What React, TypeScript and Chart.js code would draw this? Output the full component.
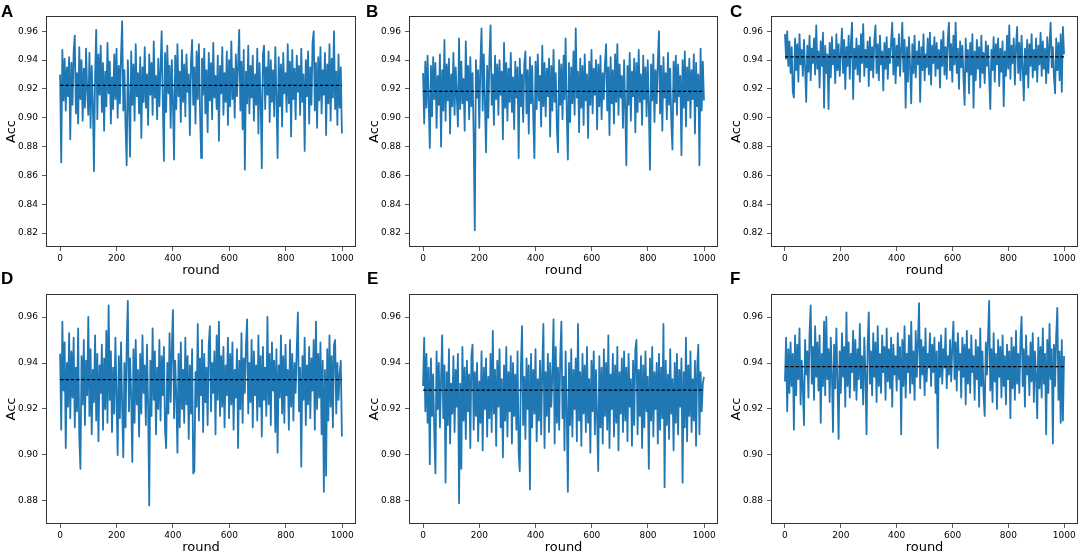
import { useEffect, useRef } from 'react'
import { Chart, registerables } from 'chart.js'

Chart.register(...registerables)

// x ticks (round) and y ticks (Acc) per row
const X_TICKS = [0, 200, 400, 600, 800, 1000]
const Y_TICKS_TOP = [0.82, 0.84, 0.86, 0.88, 0.9, 0.92, 0.94, 0.96]
const Y_TICKS_BOTTOM = [0.88, 0.9, 0.92, 0.94, 0.96]

// accuracy per round (one value about every 4 rounds)
const ACC_A = [
  0.930, 0.869, 0.947, 0.912, 0.941, 0.905, 0.935, 0.915, 0.942, 0.885,
  0.938, 0.909, 0.946, 0.957, 0.903, 0.931, 0.896, 0.949, 0.913, 0.940,
  0.898, 0.934, 0.907, 0.948, 0.918, 0.902, 0.945, 0.893, 0.936, 0.911,
  0.863, 0.929, 0.961, 0.899, 0.944, 0.916, 0.950, 0.904, 0.938, 0.891,
  0.932, 0.908, 0.952, 0.917, 0.939, 0.896, 0.928, 0.906, 0.944, 0.913,
  0.948, 0.900, 0.936, 0.910, 0.943, 0.967, 0.905, 0.933, 0.894, 0.867,
  0.940, 0.912, 0.873, 0.946, 0.909, 0.937, 0.898, 0.951, 0.915, 0.931,
  0.903, 0.942, 0.886, 0.935, 0.911, 0.949, 0.907, 0.930, 0.895, 0.944,
  0.916, 0.938, 0.902, 0.953, 0.914, 0.929, 0.899, 0.941, 0.908, 0.934,
  0.960, 0.912, 0.870, 0.945, 0.904, 0.950, 0.917, 0.936, 0.893, 0.940,
  0.910, 0.871, 0.943, 0.906, 0.951, 0.915, 0.932, 0.897, 0.947, 0.911,
  0.937, 0.901, 0.944, 0.918, 0.930, 0.888, 0.939, 0.954, 0.909, 0.935,
  0.896, 0.946, 0.913, 0.951, 0.905, 0.872, 0.941, 0.916, 0.948, 0.903,
  0.933, 0.890, 0.945, 0.912, 0.938, 0.899, 0.952, 0.914, 0.929, 0.906,
  0.943, 0.884, 0.936, 0.917, 0.949, 0.902, 0.931, 0.911, 0.946, 0.895,
  0.940, 0.908, 0.953, 0.913, 0.934, 0.900, 0.944, 0.915, 0.937, 0.961,
  0.905, 0.939, 0.892, 0.947, 0.864, 0.932, 0.910, 0.950, 0.903, 0.936,
  0.914, 0.943, 0.898, 0.930, 0.909, 0.948, 0.889, 0.938, 0.912, 0.865,
  0.944, 0.950, 0.906, 0.935, 0.916, 0.946, 0.897, 0.940, 0.911, 0.933,
  0.901, 0.949, 0.914, 0.872, 0.942, 0.908, 0.937, 0.894, 0.945, 0.917,
  0.931, 0.904, 0.951, 0.910, 0.939, 0.887, 0.947, 0.913, 0.934, 0.899,
  0.943, 0.918, 0.936, 0.902, 0.948, 0.911, 0.930, 0.877, 0.940, 0.915,
  0.946, 0.896, 0.935, 0.909, 0.952, 0.960, 0.905, 0.938, 0.893, 0.942,
  0.912, 0.949, 0.903, 0.933, 0.916, 0.945, 0.888, 0.937, 0.910, 0.951,
  0.898, 0.941, 0.914, 0.960, 0.906, 0.932, 0.895, 0.944, 0.907, 0.935,
  0.889,
]
const ACC_B = [
  0.931, 0.896, 0.939, 0.907, 0.943, 0.911, 0.879, 0.936, 0.901, 0.942,
  0.913, 0.938, 0.893, 0.929, 0.909, 0.944, 0.880, 0.933, 0.905, 0.954,
  0.898, 0.937, 0.912, 0.941, 0.889, 0.930, 0.908, 0.945, 0.902, 0.935,
  0.915, 0.894, 0.955, 0.906, 0.939, 0.910, 0.927, 0.891, 0.953, 0.912,
  0.936, 0.899, 0.942, 0.908, 0.931, 0.887, 0.822, 0.940, 0.914, 0.933,
  0.893, 0.938, 0.962, 0.905, 0.944, 0.911, 0.876, 0.936, 0.900, 0.941,
  0.964, 0.909, 0.930, 0.895, 0.943, 0.913, 0.937, 0.902, 0.940, 0.916,
  0.932, 0.885, 0.952, 0.907, 0.938, 0.898, 0.934, 0.911, 0.945, 0.904,
  0.928, 0.892, 0.939, 0.914, 0.935, 0.872, 0.941, 0.908, 0.930, 0.897,
  0.937, 0.946, 0.903, 0.933, 0.889, 0.942, 0.910, 0.936, 0.899, 0.872,
  0.939, 0.906, 0.944, 0.912, 0.929, 0.894, 0.950, 0.908, 0.938, 0.901,
  0.934, 0.915, 0.941, 0.887, 0.936, 0.905, 0.947, 0.911, 0.931, 0.893,
  0.876, 0.940, 0.909, 0.937, 0.899, 0.943, 0.913, 0.955, 0.904, 0.871,
  0.938, 0.897, 0.935, 0.910, 0.946, 0.902, 0.962, 0.914, 0.932, 0.890,
  0.941, 0.907, 0.936, 0.895, 0.944, 0.912, 0.930, 0.886, 0.939, 0.909,
  0.947, 0.903, 0.934, 0.916, 0.940, 0.892, 0.937, 0.908, 0.943, 0.899,
  0.931, 0.913, 0.938, 0.951, 0.905, 0.935, 0.888, 0.942, 0.910, 0.933,
  0.896, 0.944, 0.911, 0.951, 0.902, 0.937, 0.914, 0.929, 0.893, 0.940,
  0.907, 0.867, 0.936, 0.909, 0.945, 0.898, 0.932, 0.915, 0.941, 0.890,
  0.938, 0.904, 0.947, 0.911, 0.930, 0.895, 0.943, 0.913, 0.935, 0.901,
  0.940, 0.908, 0.864, 0.937, 0.912, 0.944, 0.897, 0.933, 0.910, 0.939,
  0.960, 0.903, 0.936, 0.891, 0.942, 0.914, 0.931, 0.899, 0.945, 0.909,
  0.934, 0.896, 0.878, 0.939, 0.911, 0.943, 0.902, 0.937, 0.915, 0.929,
  0.874, 0.940, 0.907, 0.946, 0.894, 0.935, 0.912, 0.941, 0.900, 0.933,
  0.913, 0.944, 0.889, 0.938, 0.908, 0.930, 0.867, 0.948, 0.905, 0.939,
  0.912,
]
const ACC_C = [
  0.958, 0.941, 0.960, 0.936, 0.953, 0.931, 0.949, 0.918, 0.914, 0.955,
  0.933, 0.951, 0.925, 0.958, 0.937, 0.947, 0.929, 0.954, 0.935, 0.911,
  0.950, 0.932, 0.957, 0.926, 0.948, 0.938, 0.955, 0.930, 0.964, 0.934,
  0.946, 0.921, 0.953, 0.936, 0.959, 0.907, 0.950, 0.931, 0.944, 0.906,
  0.952, 0.928, 0.956, 0.937, 0.947, 0.924, 0.958, 0.933, 0.951, 0.929,
  0.945, 0.962, 0.931, 0.954, 0.920, 0.949, 0.936, 0.957, 0.927, 0.952,
  0.966, 0.913, 0.948, 0.934, 0.955, 0.930, 0.950, 0.925, 0.958, 0.938,
  0.965, 0.929, 0.947, 0.935, 0.953, 0.922, 0.956, 0.933, 0.949, 0.928,
  0.954, 0.964, 0.931, 0.951, 0.926, 0.957, 0.937, 0.946, 0.919, 0.952,
  0.934, 0.956, 0.927, 0.948, 0.938, 0.953, 0.966, 0.930, 0.955, 0.924,
  0.950, 0.936, 0.958, 0.929, 0.947, 0.966, 0.932, 0.954, 0.907, 0.949,
  0.925, 0.956, 0.935, 0.910, 0.951, 0.931, 0.957, 0.928, 0.946, 0.937,
  0.953, 0.911, 0.949, 0.933, 0.958, 0.926, 0.944, 0.935, 0.955, 0.930,
  0.959, 0.923, 0.950, 0.938, 0.956, 0.929, 0.952, 0.934, 0.947, 0.921,
  0.954, 0.936, 0.960, 0.930, 0.949, 0.927, 0.955, 0.966, 0.933, 0.951,
  0.925, 0.957, 0.937, 0.966, 0.931, 0.948, 0.920, 0.953, 0.935, 0.950,
  0.928, 0.909, 0.955, 0.932, 0.947, 0.917, 0.952, 0.930, 0.958, 0.907,
  0.946, 0.926, 0.954, 0.934, 0.949, 0.921, 0.957, 0.931, 0.945, 0.924,
  0.953, 0.936, 0.950, 0.928, 0.906, 0.947, 0.933, 0.956, 0.925, 0.951,
  0.937, 0.955, 0.922, 0.948, 0.932, 0.953, 0.908, 0.946, 0.929, 0.957,
  0.934, 0.964, 0.927, 0.950, 0.938, 0.955, 0.923, 0.949, 0.963, 0.931,
  0.952, 0.926, 0.957, 0.935, 0.912, 0.948, 0.930, 0.954, 0.921, 0.951,
  0.936, 0.958, 0.928, 0.947, 0.933, 0.955, 0.925, 0.950, 0.937, 0.959,
  0.929, 0.953, 0.934, 0.948, 0.924, 0.956, 0.931, 0.951, 0.966, 0.935,
  0.949, 0.928, 0.917, 0.955, 0.933, 0.952, 0.926, 0.958, 0.918, 0.963,
  0.944,
]
const ACC_D = [
  0.944, 0.911, 0.958, 0.928, 0.949, 0.903, 0.940, 0.921, 0.953, 0.916,
  0.945, 0.925, 0.951, 0.912, 0.938, 0.919, 0.955, 0.908, 0.894, 0.943,
  0.922, 0.950, 0.913, 0.941, 0.926, 0.960, 0.917, 0.946, 0.909, 0.937,
  0.923, 0.952, 0.915, 0.944, 0.906, 0.939, 0.927, 0.948, 0.911, 0.942,
  0.920, 0.954, 0.914, 0.965, 0.924, 0.945, 0.910, 0.938, 0.918, 0.951,
  0.926, 0.900, 0.943, 0.916, 0.949, 0.921, 0.899, 0.940, 0.912, 0.947,
  0.967, 0.919, 0.942, 0.925, 0.897, 0.946, 0.914, 0.950, 0.922, 0.937,
  0.908, 0.944, 0.918, 0.952, 0.927, 0.939, 0.913, 0.948, 0.921, 0.878,
  0.941, 0.917, 0.955, 0.924, 0.945, 0.909, 0.938, 0.920, 0.950, 0.915,
  0.943, 0.926, 0.947, 0.911, 0.903, 0.940, 0.918, 0.953, 0.923, 0.946,
  0.963, 0.916, 0.941, 0.925, 0.901, 0.944, 0.912, 0.949, 0.920, 0.937,
  0.914, 0.951, 0.922, 0.943, 0.907, 0.939, 0.918, 0.946, 0.892, 0.893,
  0.936, 0.921, 0.957, 0.915, 0.942, 0.926, 0.950, 0.910, 0.944, 0.923,
  0.938, 0.913, 0.948, 0.956, 0.919, 0.940, 0.927, 0.945, 0.909, 0.952,
  0.924, 0.958, 0.917, 0.943, 0.921, 0.947, 0.912, 0.939, 0.926, 0.951,
  0.916, 0.944, 0.922, 0.949, 0.911, 0.937, 0.925, 0.946, 0.903, 0.941,
  0.920, 0.953, 0.914, 0.942, 0.927, 0.948, 0.959, 0.918, 0.940, 0.923,
  0.950, 0.912, 0.945, 0.926, 0.939, 0.915, 0.952, 0.921, 0.943, 0.908,
  0.947, 0.924, 0.938, 0.917, 0.960, 0.922, 0.944, 0.913, 0.949, 0.928,
  0.941, 0.910, 0.946, 0.901, 0.939, 0.925, 0.952, 0.918, 0.943, 0.914,
  0.948, 0.926, 0.937, 0.911, 0.950, 0.921, 0.944, 0.915, 0.940, 0.927,
  0.946, 0.962, 0.919, 0.938, 0.895, 0.943, 0.924, 0.951, 0.913, 0.939,
  0.922, 0.947, 0.916, 0.942, 0.928, 0.950, 0.911, 0.958, 0.920, 0.944,
  0.925, 0.949, 0.909, 0.941, 0.884, 0.937, 0.891, 0.946, 0.915, 0.952,
  0.921, 0.943, 0.912, 0.948, 0.950, 0.918, 0.940, 0.924, 0.935, 0.941,
  0.908,
]
const ACC_E = [
  0.930, 0.951, 0.919, 0.944, 0.914, 0.938, 0.896, 0.942, 0.917, 0.935,
  0.909, 0.892, 0.945, 0.920, 0.940, 0.912, 0.933, 0.952, 0.916, 0.939,
  0.888, 0.936, 0.913, 0.946, 0.905, 0.931, 0.918, 0.943, 0.910, 0.937,
  0.921, 0.944, 0.879, 0.931, 0.894, 0.947, 0.915, 0.938, 0.907, 0.941,
  0.919, 0.935, 0.903, 0.943, 0.948, 0.911, 0.936, 0.917, 0.940, 0.906,
  0.932, 0.914, 0.945, 0.902, 0.938, 0.920, 0.942, 0.908, 0.934, 0.916,
  0.944, 0.910, 0.954, 0.918, 0.937, 0.904, 0.941, 0.921, 0.946, 0.912,
  0.933, 0.899, 0.939, 0.915, 0.947, 0.908, 0.936, 0.919, 0.943, 0.905,
  0.940, 0.917, 0.935, 0.911, 0.945, 0.901, 0.893, 0.938, 0.956, 0.913,
  0.934, 0.907, 0.942, 0.920, 0.939, 0.885, 0.944, 0.912, 0.937, 0.918,
  0.946, 0.906, 0.933, 0.915, 0.941, 0.909, 0.938, 0.957, 0.903, 0.936,
  0.917, 0.944, 0.910, 0.940, 0.921, 0.935, 0.959, 0.905, 0.947, 0.914,
  0.938, 0.911, 0.943, 0.958, 0.916, 0.934, 0.902, 0.945, 0.919, 0.884,
  0.940, 0.913, 0.946, 0.908, 0.937, 0.920, 0.942, 0.906, 0.957, 0.915,
  0.936, 0.904, 0.944, 0.918, 0.939, 0.910, 0.947, 0.914, 0.933, 0.901,
  0.941, 0.919, 0.945, 0.909, 0.937, 0.916, 0.893, 0.943, 0.912, 0.938,
  0.905, 0.946, 0.917, 0.940, 0.911, 0.952, 0.903, 0.935, 0.920, 0.944,
  0.908, 0.939, 0.914, 0.947, 0.902, 0.936, 0.918, 0.942, 0.910, 0.945,
  0.915, 0.938, 0.906, 0.944, 0.921, 0.933, 0.904, 0.941, 0.913, 0.946,
  0.950, 0.909, 0.937, 0.917, 0.943, 0.903, 0.939, 0.912, 0.945, 0.919,
  0.934, 0.894, 0.942, 0.915, 0.947, 0.908, 0.936, 0.920, 0.940, 0.905,
  0.944, 0.911, 0.938, 0.916, 0.957, 0.886, 0.941, 0.913, 0.935, 0.907,
  0.946, 0.918, 0.933, 0.902, 0.940, 0.914, 0.944, 0.909, 0.937, 0.921,
  0.942, 0.888, 0.936, 0.912, 0.951, 0.906, 0.939, 0.917, 0.945, 0.910,
  0.933, 0.915, 0.941, 0.904, 0.938, 0.948, 0.909, 0.936, 0.919, 0.931,
  0.934,
]
const ACC_F = [
  0.932, 0.951, 0.919, 0.946, 0.927, 0.949, 0.930, 0.944, 0.911, 0.952,
  0.926, 0.948, 0.933, 0.955, 0.922, 0.941, 0.929, 0.913, 0.950, 0.935,
  0.945, 0.925, 0.953, 0.965, 0.931, 0.947, 0.924, 0.956, 0.934, 0.949,
  0.928, 0.952, 0.914, 0.944, 0.930, 0.958, 0.926, 0.960, 0.933, 0.946,
  0.923, 0.951, 0.935, 0.910, 0.948, 0.929, 0.955, 0.932, 0.907, 0.945,
  0.927, 0.953, 0.934, 0.947, 0.921, 0.962, 0.930, 0.949, 0.925, 0.944,
  0.936, 0.954, 0.928, 0.950, 0.924, 0.946, 0.933, 0.957, 0.929, 0.943,
  0.922, 0.951, 0.935, 0.909, 0.948, 0.962, 0.931, 0.945, 0.926, 0.953,
  0.934, 0.949, 0.923, 0.956, 0.930, 0.944, 0.927, 0.952, 0.936, 0.947,
  0.924, 0.955, 0.932, 0.946, 0.929, 0.951, 0.921, 0.948, 0.935, 0.943,
  0.928, 0.953, 0.933, 0.947, 0.909, 0.950, 0.930, 0.956, 0.925, 0.944,
  0.936, 0.952, 0.927, 0.958, 0.931, 0.945, 0.924, 0.954, 0.934, 0.949,
  0.966, 0.929, 0.950, 0.935, 0.947, 0.926, 0.955, 0.932, 0.944, 0.938,
  0.953, 0.930, 0.948, 0.936, 0.951, 0.927, 0.945, 0.903, 0.949, 0.934,
  0.952, 0.931, 0.946, 0.938, 0.955, 0.929, 0.943, 0.935, 0.950, 0.932,
  0.947, 0.958, 0.933, 0.949, 0.928, 0.953, 0.937, 0.944, 0.925, 0.951,
  0.934, 0.948, 0.922, 0.954, 0.931, 0.946, 0.927, 0.952, 0.936, 0.943,
  0.924, 0.950, 0.933, 0.947, 0.921, 0.955, 0.930, 0.945, 0.926, 0.917,
  0.949, 0.935, 0.951, 0.967, 0.928, 0.946, 0.923, 0.953, 0.932, 0.944,
  0.920, 0.950, 0.934, 0.947, 0.925, 0.952, 0.930, 0.943, 0.922, 0.948,
  0.933, 0.945, 0.916, 0.951, 0.929, 0.947, 0.924, 0.954, 0.931, 0.944,
  0.927, 0.950, 0.960, 0.930, 0.946, 0.921, 0.952, 0.935, 0.943, 0.926,
  0.949, 0.932, 0.953, 0.923, 0.945, 0.934, 0.916, 0.951, 0.929, 0.947,
  0.925, 0.955, 0.931, 0.944, 0.909, 0.950, 0.927, 0.957, 0.933, 0.946,
  0.905, 0.948, 0.930, 0.952, 0.964, 0.924, 0.945, 0.914, 0.950, 0.915,
  0.943,
]

// dashed mean line of each panel
const MEAN_ACC = [0.9225, 0.9183, 0.9422, 0.9328, 0.9282, 0.9384]

const BLUE = '#1f77b4'
const FONT = "'DejaVu Sans', sans-serif"

// frame = plot box in page pixels
const PANELS = [
  { letter: 'A', acc: ACC_A, mean: MEAN_ACC[0], frame: { x: 46, y: 16, w: 310, h: 231 }, yRange: [0.8103, 0.9706], yTicks: Y_TICKS_TOP, letterPos: [1, 3] },
  { letter: 'B', acc: ACC_B, mean: MEAN_ACC[1], frame: { x: 409, y: 16, w: 309, h: 231 }, yRange: [0.8103, 0.9706], yTicks: Y_TICKS_TOP, letterPos: [366, 3] },
  { letter: 'C', acc: ACC_C, mean: MEAN_ACC[2], frame: { x: 771, y: 16, w: 307, h: 231 }, yRange: [0.8103, 0.9706], yTicks: Y_TICKS_TOP, letterPos: [730, 3] },
  { letter: 'D', acc: ACC_D, mean: MEAN_ACC[3], frame: { x: 46, y: 294, w: 310, h: 230 }, yRange: [0.870, 0.970], yTicks: Y_TICKS_BOTTOM, letterPos: [1, 270] },
  { letter: 'E', acc: ACC_E, mean: MEAN_ACC[4], frame: { x: 409, y: 294, w: 309, h: 230 }, yRange: [0.870, 0.970], yTicks: Y_TICKS_BOTTOM, letterPos: [367, 270] },
  { letter: 'F', acc: ACC_F, mean: MEAN_ACC[5], frame: { x: 771, y: 294, w: 307, h: 230 }, yRange: [0.870, 0.970], yTicks: Y_TICKS_BOTTOM, letterPos: [730, 270] },
]

const Y_AXIS_W = 46
const X_AXIS_H = 38
const PAD_TOP = 16
const PAD_RIGHT = 4

const framePlugin = {
  id: 'frame',
  afterDatasetsDraw(chart: Chart) {
    const { ctx, chartArea: a } = chart
    ctx.save()
    ctx.strokeStyle = '#333'
    ctx.lineWidth = 1
    ctx.strokeRect(Math.round(a.left) + 0.5, Math.round(a.top) + 0.5, Math.round(a.width) - 1, Math.round(a.height) - 1)
    ctx.restore()
  },
}

type PanelProps = (typeof PANELS)[number]

function Panel({ acc, mean, frame, yRange, yTicks }: PanelProps) {
  const canvasRef = useRef<HTMLCanvasElement>(null)
  const width = frame.w + Y_AXIS_W + PAD_RIGHT
  const height = frame.h + PAD_TOP + X_AXIS_H

  useEffect(() => {
    if (!canvasRef.current) return
    const n = acc.length
    const rounds = acc.map((_, i) => Math.round((i * 999) / (n - 1)))

    const chart = new Chart(canvasRef.current, {
      type: 'line',
      data: {
        datasets: [
          {
            data: [{ x: 0, y: mean }, { x: 999, y: mean }],
            borderColor: '#000',
            borderWidth: 1.2,
            borderDash: [3.5, 1.8],
            pointRadius: 0,
            order: 0,
          },
          {
            data: acc.map((v, i) => ({ x: rounds[i], y: v })),
            borderColor: BLUE,
            borderWidth: 1.8,
            borderJoinStyle: 'round',
            pointRadius: 0,
            tension: 0,
            order: 1,
          },
        ],
      },
      options: {
        responsive: false,
        animation: false,
        events: [],
        layout: { padding: { top: PAD_TOP, right: PAD_RIGHT, left: 0, bottom: 0 } },
        plugins: { legend: { display: false }, tooltip: { enabled: false } },
        scales: {
          x: {
            type: 'linear',
            min: -50,
            max: 1049,
            afterFit: (s: any) => { s.height = X_AXIS_H },
            afterBuildTicks: (s: any) => { s.ticks = X_TICKS.map((v) => ({ value: v })) },
            grid: { display: true, drawOnChartArea: false, drawTicks: true, tickLength: 4, tickColor: '#333', tickWidth: 0.8 },
            border: { display: false },
            ticks: {
              padding: 2,
              color: '#000',
              font: { family: FONT, size: 9 },
              maxRotation: 0,
              autoSkip: false,
              callback: (v: any) => String(v),
            },
            title: {
              display: true,
              text: 'round',
              color: '#000',
              font: { family: FONT, size: 13 },
              padding: { top: 0, bottom: 7 },
            },
          },
          y: {
            type: 'linear',
            min: yRange[0],
            max: yRange[1],
            afterFit: (s: any) => { s.width = Y_AXIS_W },
            afterBuildTicks: (s: any) => { s.ticks = yTicks.map((v) => ({ value: v })) },
            grid: { display: true, drawOnChartArea: false, drawTicks: true, tickLength: 4, tickColor: '#333', tickWidth: 0.8 },
            border: { display: false },
            ticks: {
              padding: 4,
              color: '#000',
              font: { family: FONT, size: 9 },
              autoSkip: false,
              callback: (v: any) => Number(v).toFixed(2),
            },
            title: {
              display: true,
              text: 'Acc',
              color: '#000',
              font: { family: FONT, size: 13 },
              padding: { top: 4, bottom: 0 },
            },
          },
        },
      },
      plugins: [framePlugin],
    })
    return () => { chart.destroy() }
  }, [acc, mean, yRange, yTicks])

  return (
    <canvas
      ref={canvasRef}
      width={width}
      height={height}
      style={{ position: 'absolute', left: frame.x - Y_AXIS_W, top: frame.y - PAD_TOP, width, height }}
    />
  )
}

export default function App() {
  return (
    <div style={{ position: 'absolute', left: 0, top: 0, width: 1084, height: 556, overflow: 'hidden', background: '#fff' }}>
      {PANELS.map((p) => (
        <Panel key={p.letter} {...p} />
      ))}
      {PANELS.map((p) => (
        <div
          key={'l' + p.letter}
          style={{
            position: 'absolute',
            left: p.letterPos[0],
            top: p.letterPos[1],
            fontFamily: "'Liberation Sans', Arial, sans-serif",
            fontWeight: 700,
            fontSize: 17,
            lineHeight: 1,
            color: '#000',
          }}
        >
          {p.letter}
        </div>
      ))}
    </div>
  )
}
